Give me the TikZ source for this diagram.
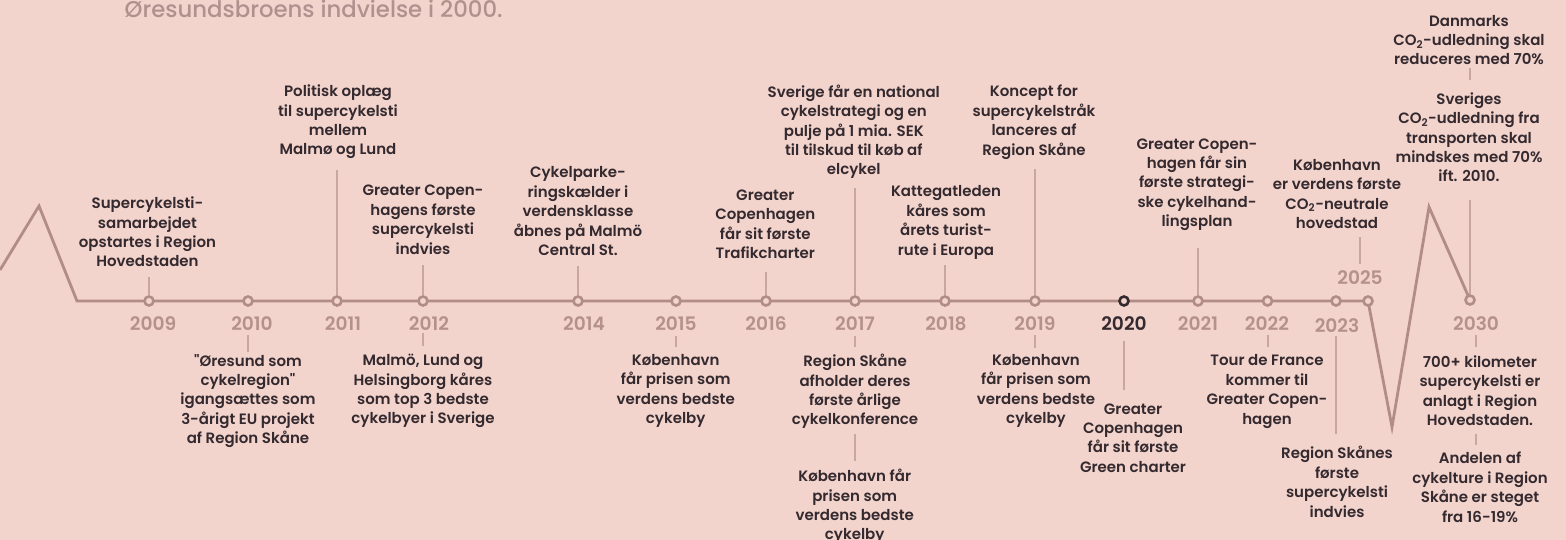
\documentclass[tikz,border=0pt]{standalone}
\usepackage{fontspec}
\setmainfont{Poppins Medium}
\newfontfamily\evfont{Poppins SemiBold}
\pgfdeclarelayer{bg}
\pgfsetlayers{bg,main}
\definecolor{bgpink}{HTML}{F3D4CD}
\definecolor{linec}{HTML}{B28C87}
\definecolor{connc}{HTML}{C8A6A1}
\definecolor{yearc}{HTML}{B5918C}
\definecolor{textc}{HTML}{33292E}
\definecolor{headc}{HTML}{B0918D}
\tikzset{
    event/.style={align=center, inner sep=0pt, anchor=north, text=textc, font=\evfont\fontsize{15}{19.4}\selectfont},
    year/.style={inner sep=0pt, anchor=base, text=yearc, font=\evfont\fontsize{18.6}{22}\selectfont},
    dot/.style={circle, draw=linec, line width=2.6pt, fill=bgpink, minimum size=9pt, inner sep=0pt},
    conn/.style={draw=connc, line width=2pt},
    tline/.style={draw=linec, line width=2.8pt, line join=miter},
}
\begin{document}
\begin{tikzpicture}[x=1pt, y=-1pt]
    \useasboundingbox (0,0) rectangle (1566,540);
    \node[anchor=base, inner sep=0pt, text=headc, font=\fontsize{22.8}{26}\selectfont] (head) at (313.7,17.3) {Øresundsbroens indvielse i 2000.};

    \node[dot] (d2009) at (149,301) {};
    \node[dot] (d2010) at (248,301) {};
    \node[dot] (d2011) at (337,301) {};
    \node[dot] (d2012) at (423,301) {};
    \node[dot] (d2014) at (578,301) {};
    \node[dot] (d2015) at (676,301) {};
    \node[dot] (d2016) at (766,301) {};
    \node[dot] (d2017) at (855,301) {};
    \node[dot] (d2018) at (945,301) {};
    \node[dot] (d2019) at (1035,301) {};
    \node[dot, draw=textc] (d2020) at (1124,301) {};
    \node[dot] (d2021) at (1198,301) {};
    \node[dot] (d2022) at (1267.5,301) {};
    \node[dot] (d2023) at (1336,301) {};
    \node[dot] (d2025) at (1368,301) {};
    \node[dot] (d2030) at (1470,300) {};

    \begin{pgfonlayer}{bg}
        \fill[bgpink] (0,0) rectangle (1566,540);
        \coordinate (s0) at (0,270);
        \coordinate (s1) at (39,206);
        \coordinate (s2) at (77,301);
        \coordinate (s3) at (1392,427);
        \coordinate (s4) at (1429,207);
        \draw[tline] (s0) -- (s1) -- (s2) -- (d2025.center) -- (s3) -- (s4) -- (d2030.center);
    \end{pgfonlayer}

    \node[year] (y2009) at (153,330) {2009};
    \node[year] (y2010) at (252,330) {2010};
    \node[year] (y2011) at (343,330) {2011};
    \node[year] (y2012) at (429,330) {2012};
    \node[year] (y2014) at (584,330) {2014};
    \node[year] (y2015) at (676,330) {2015};
    \node[year] (y2016) at (766,330) {2016};
    \node[year] (y2017) at (855,330) {2017};
    \node[year] (y2018) at (946,330) {2018};
    \node[year] (y2019) at (1035,330) {2019};
    \node[year, text=textc] (y2020) at (1124,330) {2020};
    \node[year] (y2021) at (1198,330) {2021};
    \node[year] (y2022) at (1267,330) {2022};
    \node[year] (y2023) at (1337,332) {2023};
    \node[year] (y2025) at (1360,284.7) {2025};
    \node[year] (y2030) at (1476,330) {2030};

    \node[event] (t2009) at (147.5,196.7) {Supercykelsti-\\samarbejdet\\opstartes i Region\\Hovedstaden};
    \node[event] (t2011) at (338,84.7) {Politisk oplæg\\til supercykelsti\\mellem\\Malmø og Lund};
    \node[event] (t2012) at (423,185) {Greater Copen-\\hagens første\\supercykelsti\\indvies};
    \node[event] (t2014) at (578,166.7) {Cykelparke-\\ringskælder i\\verdensklasse\\åbnes på Malmö\\Central St.};
    \node[event] (t2016) at (765.3,189.7) {Greater\\Copenhagen\\får sit første\\Trafikcharter};
    \node[event] (t2017) at (853.8,84.7) {Sverige får en national\\cykelstrategi og en\\pulje på 1 mia. SEK\\til tilskud til køb af\\elcykel};
    \node[event] (t2018) at (946,185.7) {Kattegatleden\\kåres som\\årets turist-\\rute i Europa};
    \node[event] (t2019) at (1034,85) {Koncept for\\supercykelstråk\\lanceres af\\Region Skåne};
    \node[event] (t2021) at (1197,138.3) {Greater Copen-\\hagen får sin\\første strategi-\\ske cykelhand-\\lingsplan};
    \node[event] (t2025) at (1337,159) {København\\er verdens første\\CO\textsubscript{2}-neutrale\\hovedstad};
    \node[event] (t2030a) at (1469,14.8) {Danmarks\\CO\textsubscript{2}-udledning skal\\reduceres med 70\%};
    \node[event] (t2030b) at (1469,92.3) {Sveriges\\CO\textsubscript{2}-udledning fra\\transporten skal\\mindskes med 70\%\\ift. 2010.};

    \node[event] (b2010) at (248,354) {"Øresund som\\cykelregion"\\igangsættes som\\3-årigt EU projekt\\af Region Skåne};
    \node[event] (b2012) at (423,354) {Malmö, Lund og\\Helsingborg kåres\\som top 3 bedste\\cykelbyer i Sverige};
    \node[event] (b2015) at (675.7,354) {København\\får prisen som\\verdens bedste\\cykelby};
    \node[event] (b2017) at (855,354) {Region Skåne\\afholder deres\\første årlige\\cykelkonference};
    \node[event] (c2017) at (854.7,469) {København får\\prisen som\\verdens bedste\\cykelby};
    \node[event] (b2019) at (1036,354) {København\\får prisen som\\verdens bedste\\cykelby};
    \node[event] (b2020) at (1133,403.3) {Greater\\Copenhagen\\får sit første\\Green charter};
    \node[event] (b2022) at (1267,354.6) {Tour de France\\kommer til\\Greater Copen-\\hagen};
    \node[event] (b2023) at (1337,446.2) {Region Skånes\\første\\supercykelsti\\indvies};
    \node[event] (b2030) at (1480,355.3) {700+ kilometer\\supercykelsti er\\anlagt i Region\\Hovedstaden.};
    \node[event] (c2030) at (1480,451.9) {Andelen af\\cykelture i Region\\Skåne er steget\\fra 16-19\%};

    \draw[conn, shorten <=10pt] (t2009.south -| d2009) -- (d2009.north);
    \draw[conn, shorten <=11pt] (t2011.south -| d2011) -- (d2011.north);
    \draw[conn, shorten <=10.5pt] (t2012.south -| d2012) -- (d2012.north);
    \draw[conn, shorten <=10.5pt] (t2014.south -| d2014) -- (d2014.north);
    \draw[conn, shorten <=12.5pt] (t2016.south -| d2016) -- (d2016.north);
    \draw[conn, shorten <=8.4pt] (t2017.south -| d2017) -- (d2017.north);
    \draw[conn, shorten <=5.5pt] (t2018.south -| d2018) -- (d2018.north);
    \draw[conn, shorten <=9.4pt] (t2019.south -| d2019) -- (d2019.north);
    \draw[conn, shorten <=16.6pt] (t2021.south -| d2021) -- (d2021.north);
    \draw[conn, shorten <=8pt, shorten >=6.4pt] (t2025.south -| y2025) -- (y2025.north);
    \draw[conn, shorten <=3pt, shorten >=12pt] (t2030a.south -| d2030) -- (t2030b.north -| d2030);
    \draw[conn, shorten <=18pt] (t2030b.south -| d2030) -- (d2030.north);

    \draw[conn, shorten <=5pt, shorten >=2pt] (y2010.south -| d2010) -- (b2010.north -| d2010);
    \draw[conn, shorten <=2.7pt, shorten >=8.3pt] (y2012.south -| d2012) -- (b2012.north -| d2012);
    \draw[conn, shorten <=5.7pt, shorten >=6.7pt] (y2015.south -| d2015) -- (b2015.north -| d2015);
    \draw[conn, shorten <=5.7pt, shorten >=6.7pt] (y2017.south -| d2017) -- (b2017.north -| d2017);
    \draw[conn, shorten <=4.7pt, shorten >=8pt] (b2017.south -| d2017) -- (c2017.north -| d2017);
    \draw[conn, shorten <=5pt, shorten >=6.3pt] (y2019.south -| d2019) -- (b2019.north -| d2019);
    \draw[conn, shorten <=10.5pt, shorten >=13.3pt] (y2020.south -| d2020) -- (b2020.north -| d2020);
    \draw[conn, shorten <=4.8pt, shorten >=7.4pt] (y2022.south -| d2022) -- (b2022.north -| d2022);
    \draw[conn, shorten <=4pt, shorten >=12.5pt] (y2023.south -| d2023) -- (b2023.north -| d2023);
    \draw[conn, shorten <=4.8pt, shorten >=8.1pt] (y2030.south -| y2030) -- (b2030.north -| y2030);
    \draw[conn, shorten <=8.3pt, shorten >=7.4pt] (b2030.south -| y2030) -- (c2030.north -| y2030);
\end{tikzpicture}
\end{document}
